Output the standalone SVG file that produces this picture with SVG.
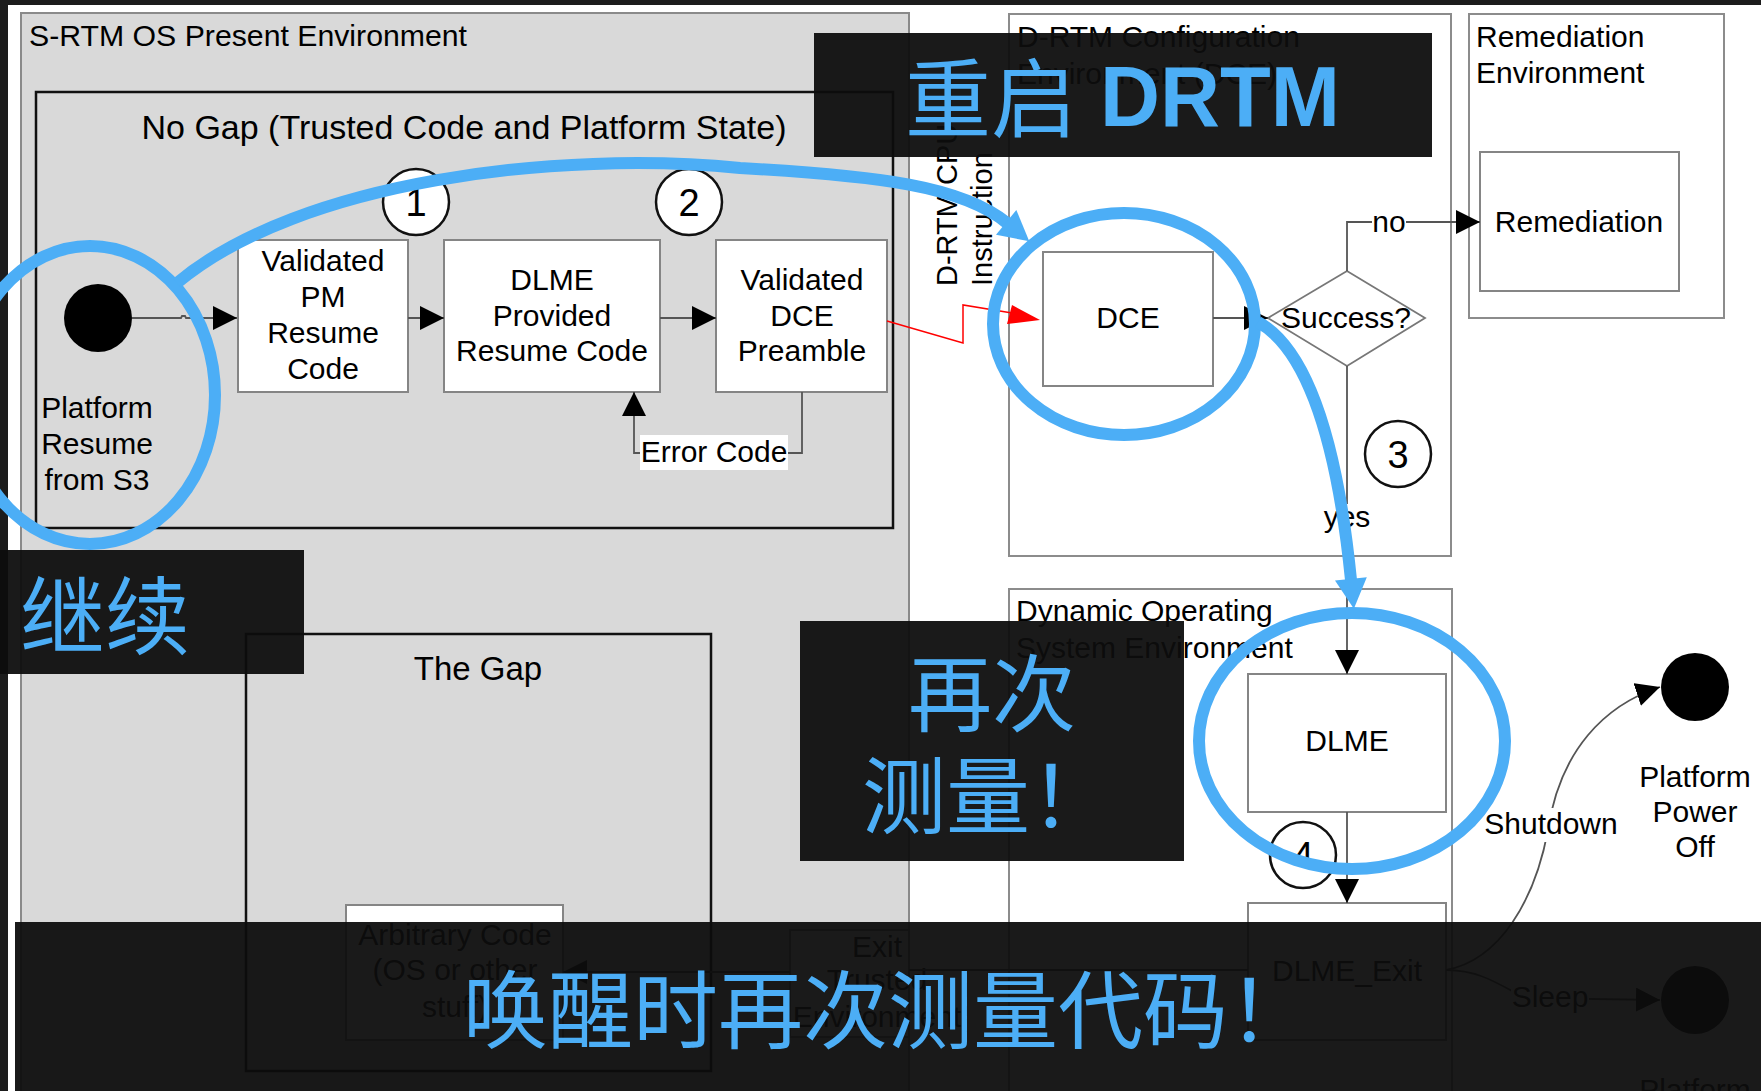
<svg xmlns="http://www.w3.org/2000/svg" width="1761" height="1091" viewBox="0 0 1761 1091">
<defs>
<style>
.t{font-family:"Liberation Sans",Arial,sans-serif;font-size:30px;fill:#000}
.c{text-anchor:middle}
.box{fill:#fff;stroke:#858585;stroke-width:2}
.frame{fill:none;stroke:#111;stroke-width:2.5}
.env{fill:#fff;stroke:#8c8c8c;stroke-width:2}
.ln{fill:none;stroke:#555;stroke-width:1.8}
.num{fill:#fff;stroke:#111;stroke-width:2.5}
.lbl{fill:#fff}
.blue{fill:none;stroke:#4caef6;stroke-width:12}
.cjk{font-family:"Noto Sans CJK SC",sans-serif;fill:#4caef6}
.banner{fill:#0d0d0d;fill-opacity:0.945}
</style>
<marker id="ah" markerUnits="userSpaceOnUse" markerWidth="24" markerHeight="24" viewBox="0 0 20 20" refX="20" refY="10" orient="auto"><path d="M0,0 L20,10 L0,20 z" fill="#000"/></marker>
<marker id="bh" markerUnits="userSpaceOnUse" markerWidth="32" markerHeight="32" viewBox="0 0 28 30" refX="1" refY="15" orient="auto"><path d="M0,0 L28,15 L0,30 z" fill="#4caef6"/></marker>
</defs>
<rect x="0" y="0" width="1761" height="1091" fill="#1c1c1c"/>
<rect x="8" y="5" width="1753" height="1086" fill="#fff"/>

<g id="srtm-env">
<rect x="21" y="13" width="888" height="1100" fill="#d9d9d9" stroke="#8a8a8a" stroke-width="2"/>
<text class="t" x="29" y="46" textLength="438" lengthAdjust="spacingAndGlyphs">S-RTM OS Present Environment</text>
</g>
<g id="nogap">
<rect class="frame" x="36" y="92" width="857" height="436"/>
<text class="t c" x="464" y="139" style="font-size:33px" textLength="645" lengthAdjust="spacingAndGlyphs">No Gap (Trusted Code and Platform State)</text>
</g>
<g id="start">
<circle cx="98" cy="318" r="34" fill="#000"/>
<text class="t c" x="97" y="418">Platform</text>
<text class="t c" x="97" y="454">Resume</text>
<text class="t c" x="97" y="490">from S3</text>
</g>
<g id="validated-pm">
<rect class="box" x="238" y="240" width="170" height="152"/>
<text class="t c" x="323" y="271">Validated</text>
<text class="t c" x="323" y="307">PM</text>
<text class="t c" x="323" y="343">Resume</text>
<text class="t c" x="323" y="379">Code</text>
</g>
<g id="dlme-resume">
<rect class="box" x="444" y="240" width="216" height="152"/>
<text class="t c" x="552" y="290">DLME</text>
<text class="t c" x="552" y="326">Provided</text>
<text class="t c" x="552" y="361">Resume Code</text>
</g>
<g id="dce-preamble">
<rect class="box" x="716" y="240" width="171" height="152"/>
<text class="t c" x="802" y="290">Validated</text>
<text class="t c" x="802" y="326">DCE</text>
<text class="t c" x="802" y="361">Preamble</text>
</g>
<g id="step1"><circle class="num" cx="416" cy="202" r="33"/><text class="t c" x="416" y="216" style="font-size:38px">1</text></g>
<g id="step2"><circle class="num" cx="689" cy="202" r="33"/><text class="t c" x="689" y="216" style="font-size:38px">2</text></g>

<g id="thegap">
<rect class="frame" x="246" y="634" width="465" height="437"/>
<text class="t c" x="478" y="680" style="font-size:33px">The Gap</text>
</g>
<g id="arbitrary">
<rect class="box" x="346" y="905" width="217" height="135"/>
<text class="t c" x="455" y="945">Arbitrary Code</text>
<text class="t c" x="455" y="980">(OS or other</text>
<text class="t c" x="455" y="1017">stuff)</text>
</g>
<g id="exit-trusted">
<rect class="box" x="790" y="930" width="119" height="107"/>
<text class="t c" x="877" y="957">Exit</text>
<text class="t c" x="877" y="990">Trusted</text>
<text class="t c" x="877" y="1027">Environment</text>
</g>

<g id="dce-env">
<rect class="env" x="1009" y="14" width="442" height="542"/>
<text class="t" x="1017" y="47">D-RTM Configuration</text>
<text class="t" x="1017" y="84">Environment (DCE)</text>
</g>
<g id="cpu-instr">
<text class="t" transform="translate(957,286) rotate(-90)" style="font-size:29px">D-RTM CPU</text>
<text class="t" transform="translate(992,286) rotate(-90)" style="font-size:29px">Instruction</text>
</g>
<g id="dce">
<rect class="box" x="1043" y="252" width="170" height="134"/>
<text class="t c" x="1128" y="328">DCE</text>
</g>
<g id="success">
<polygon points="1268,318 1347,271 1425,318 1347,366" fill="#fff" stroke="#777" stroke-width="1.8"/>
<text class="t c" x="1346" y="328">Success?</text>
</g>
<g id="step3"><circle class="num" cx="1398" cy="454" r="33"/><text class="t c" x="1398" y="468" style="font-size:38px">3</text></g>
<g id="remediation-env">
<rect class="env" x="1469" y="14" width="255" height="304"/>
<text class="t" x="1476" y="47">Remediation</text>
<text class="t" x="1476" y="83">Environment</text>
</g>
<g id="remediation">
<rect class="box" x="1480" y="152" width="199" height="139"/>
<text class="t c" x="1579" y="232">Remediation</text>
</g>
<g id="dos-env">
<rect class="env" x="1009" y="589" width="443" height="520"/>
<text class="t" x="1016" y="621">Dynamic Operating</text>
<text class="t" x="1016" y="658">System Environment</text>
</g>
<g id="dlme">
<rect class="box" x="1248" y="674" width="198" height="138"/>
<text class="t c" x="1347" y="751">DLME</text>
</g>
<g id="step4"><circle class="num" cx="1303" cy="855" r="33"/><text class="t c" x="1303" y="869" style="font-size:38px">4</text></g>
<g id="dlme-exit">
<rect class="box" x="1248" y="903" width="198" height="137"/>
<text class="t c" x="1347" y="981">DLME_Exit</text>
</g>
<g id="poweroff">
<circle cx="1695" cy="687" r="34" fill="#000"/>
<text class="t c" x="1695" y="787">Platform</text>
<text class="t c" x="1695" y="822">Power</text>
<text class="t c" x="1695" y="857">Off</text>
</g>
<g id="sleepstate">
<circle cx="1695" cy="1000" r="34" fill="#000"/>
<text class="t c" x="1695" y="1100">Platform</text>
</g>

<g id="connectors">
<path class="ln" d="M132,318 H181 l1,-2 h3 l1,2 H237" marker-end="url(#ah)"/>
<path class="ln" d="M408,318 H444" marker-end="url(#ah)"/>
<path class="ln" d="M660,318 H716" marker-end="url(#ah)"/>
<path class="ln" d="M802,392 V453 H634 V392" marker-end="url(#ah)"/>
<rect class="lbl" x="640" y="435" width="148" height="35"/>
<text class="t c" x="714" y="462">Error Code</text>
<polyline points="887,321 963,343 963,305 1012,313" fill="none" stroke="#f00" stroke-width="1.5"/>
<polygon points="1012,305 1040,320 1007,324" fill="#f00"/>
<path class="ln" d="M1213,318 H1268" marker-end="url(#ah)"/>
<path class="ln" d="M1347,271 V222 H1480" marker-end="url(#ah)"/>
<rect class="lbl" x="1372" y="208" width="34" height="30"/>
<text class="t c" x="1389" y="232">no</text>
<path class="ln" d="M1347,366 V674" marker-end="url(#ah)"/>
<rect class="lbl" x="1323" y="504" width="48" height="32"/>
<text class="t c" x="1347" y="527">yes</text>
<path class="ln" d="M1347,812 V903" marker-end="url(#ah)"/>
<path class="ln" d="M1248,970 H909"/>
<path class="ln" d="M790,972 H563" marker-end="url(#ah)"/>
<path class="ln" d="M1446,970 C1500,960 1535,900 1548,830 C1560,750 1605,705 1660,687" marker-end="url(#ah)"/>
<rect class="lbl" x="1483" y="808" width="136" height="34"/>
<text class="t c" x="1551" y="834">Shutdown</text>
<path class="ln" d="M1446,970 C1480,970 1500,985 1525,998 L1660,1000" marker-end="url(#ah)"/>
<rect class="lbl" x="1511" y="982" width="78" height="34"/>
<text class="t c" x="1550" y="1007">Sleep</text>
</g>

<g id="annotations">
<ellipse class="blue" cx="90" cy="395" rx="125" ry="149"/>
<ellipse class="blue" cx="1124" cy="324" rx="131" ry="111"/>
<ellipse class="blue" cx="1352" cy="741" rx="153" ry="128"/>
<path class="blue" d="M177,283 C300,180 560,150 740,168 C880,176 962,186 1007,223" marker-end="url(#bh)"/>
<path class="blue" d="M1258,322 C1300,345 1335,420 1351,580" marker-end="url(#bh)"/>
</g>

<g id="banners">
<rect class="banner" x="814" y="33" width="618" height="124"/>
<text class="cjk" x="905" y="131" style="font-size:86px">重启</text>
<text x="1100" y="126" textLength="240" lengthAdjust="spacingAndGlyphs" style="font-family:'Liberation Sans',Arial,sans-serif;font-weight:bold;font-size:86px;fill:#4caef6">DRTM</text>
<rect class="banner" x="0" y="550" width="304" height="124"/>
<text class="cjk" x="20" y="648" style="font-size:85px">继续</text>
<rect class="banner" x="800" y="621" width="384" height="240"/>
<text class="cjk" x="992" y="725" text-anchor="middle" style="font-size:84px">再次</text>
<text class="cjk" x="862" y="827" style="font-size:84px">测量！</text>
<rect class="banner" x="15" y="922" width="1746" height="169"/>
<text class="cjk" x="463" y="1042" style="font-size:85px">唤醒时再次测量代码！</text>
</g>
</svg>
